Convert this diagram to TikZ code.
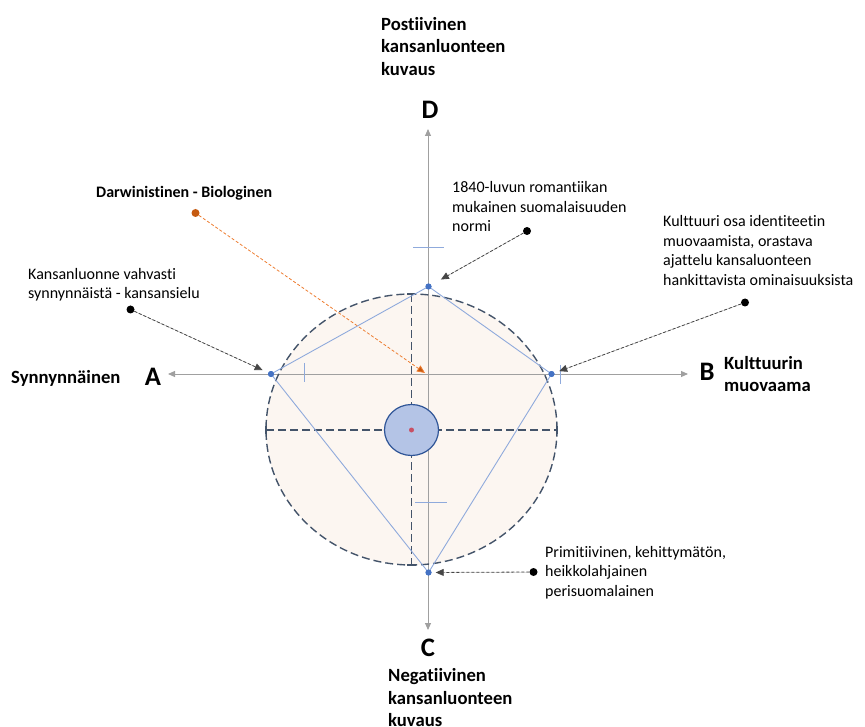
\documentclass[tikz,border=0pt]{standalone}
\usepackage{fontspec}
\setmainfont{Carlito}[Ligatures={NoCommon}]
\usetikzlibrary{arrows.meta,shapes.geometric}
\definecolor{axisgray}{RGB}{160,160,160}
\definecolor{slate}{RGB}{68,84,106}
\definecolor{peach}{RGB}{252,246,241}
\definecolor{lblue}{RGB}{143,170,220}
\definecolor{dblue}{RGB}{68,114,196}
\definecolor{cfill}{RGB}{180,196,230}
\definecolor{cline}{RGB}{47,85,151}
\definecolor{reddot}{RGB}{200,80,100}
\definecolor{orangedk}{RGB}{197,90,17}
\definecolor{orangelt}{RGB}{237,125,49}
\definecolor{callgray}{RGB}{70,70,70}
\tikzset{
  axis/.style={draw=axisgray, line width=0.9pt, {Triangle[length=7pt,width=6pt]}-{Triangle[length=7pt,width=6pt]}},
  bigdash/.style={draw=slate, line width=1.4pt, dash pattern=on 8pt off 4pt},
  tickline/.style={draw=lblue, line width=0.9pt},
  bdot/.style={circle, fill=dblue, inner sep=0pt, minimum size=6pt},
  kdot/.style={circle, fill=black, inner sep=0pt, minimum size=8pt},
  odot/.style={circle, fill=orangedk, inner sep=0pt, minimum size=8pt},
  callout/.style={draw=callgray, line width=0.8pt, dash pattern=on 3pt off 2pt, -{Triangle[length=8pt,width=7pt]}, fill=black},
  ocallout/.style={draw=orangelt, line width=0.8pt, dash pattern=on 3pt off 2pt, -{Triangle[length=8pt,width=7pt,fill=orangedk]}},
  smalltxt/.style={anchor=west, align=left, inner sep=0pt, font=\fontsize{16}{19.5}\selectfont},
  boldtxt/.style={anchor=west, align=left, inner sep=0pt, font=\bfseries\fontsize{18.67}{22.5}\selectfont},
  medbold/.style={anchor=west, align=left, inner sep=0pt, font=\bfseries\fontsize{16}{19.5}\selectfont},
  letter/.style={inner sep=0pt, font=\bfseries\fontsize{26.7}{30}\selectfont}
}
\begin{document}
\begin{tikzpicture}[x=1pt,y=-1pt]
\useasboundingbox (0,0) rectangle (865,727);
% ellipse fill
\fill[peach] (411.5,429.5) ellipse [x radius=145.5pt, y radius=135.5pt];
% axes
\coordinate (O) at (428,374);
\coordinate (axL) at (168,374);
\coordinate (axR) at (688,374);
\coordinate (axT) at (428,129);
\coordinate (axB) at (428,630);
\draw[axis] (axL) -- (axR);
\draw[axis] (axT) -- (axB);
% dashed ellipse
\draw[bigdash] (411.5,429.5) ellipse [x radius=145.5pt, y radius=135.5pt];
% dashed cross with caps
\coordinate (hl) at (266,430);
\coordinate (hr) at (557,430);
\coordinate (vt) at (411.5,294);
\coordinate (vb) at (411.5,565);
\draw[bigdash] (hl) -- (hr);
\draw[bigdash] (vt) -- (vb);
\draw[draw=slate, line width=1.4pt] (266,426) -- (266,434) (557,426) -- (557,434) (407,294) -- (416,294) (407,565) -- (416,565);
% central small ellipse
\node[draw=cline, fill=cfill, line width=1.2pt, ellipse, minimum width=54pt, minimum height=51pt, inner sep=0pt] (mid) at (411.5,430) {};
\node[circle, fill=reddot, inner sep=0pt, minimum size=5pt] (mred) at (411.5,430) {};
% ticks
\draw[tickline] (413,247) -- (444,247);
\draw[tickline] (415,502) -- (447,502);
\draw[tickline] (304,363) -- (304,382);
\draw[tickline] (560,365) -- (560,384);
% blue polygon
\node[bdot] (pT) at (428.5,286.5) {};
\node[bdot] (pL) at (271,374) {};
\node[bdot] (pR) at (551.5,374) {};
\node[bdot] (pB) at (428.5,572.5) {};
\draw[draw=lblue, line width=0.9pt] (pT.center) -- (pR.center) -- (pB.center) -- (pL.center) -- cycle;
\node[bdot] at (pT) {};
\node[bdot] at (pL) {};
\node[bdot] at (pR) {};
\node[bdot] at (pB) {};
% callouts
\node[kdot] (cL) at (130.5,309.5) {};
\node[kdot] (cT) at (527,231) {};
\node[kdot] (cR) at (745,302.5) {};
\node[kdot] (cB) at (533.5,572) {};
\node[odot] (cO) at (195.5,213) {};
\coordinate (oT) at (425,373);
\draw[callout, shorten >=6pt] (cL) -- (pL);
\draw[callout, shorten >=11pt] (cT) -- (pT);
\draw[callout, shorten >=5pt] (cR) -- (pR);
\draw[callout, shorten >=4pt] (cB) -- (pB);
\draw[ocallout] (cO) -- (oT);
% texts
\node[boldtxt] (tD) at (381,46.5) {Postiivinen\\kansanluonteen\\kuvaus};
\node[letter] (lD) at (430,110) {D};
\node[medbold] (tDar) at (96,193) {Darwinistinen - Biologinen};
\node[smalltxt] (tKan) at (28,284.5) {Kansanluonne vahvasti\\synnynnäistä - kansansielu};
\node[boldtxt] (tA) at (11,378) {Synnynnäinen};
\node[letter] (lA) at (153,377) {A};
\node[smalltxt] (t1840) at (452,207) {1840-luvun romantiikan\\mukainen suomalaisuuden\\normi};
\node[smalltxt] (tKult) at (663,250.5) {Kulttuuri osa identiteetin\\muovaamista, orastava\\ajattelu kansaluonteen\\hankittavista ominaisuuksista};
\node[letter] (lB) at (707,372) {B};
\node[boldtxt] (tB) at (724,374) {Kulttuurin\\muovaama};
\node[smalltxt] (tPrim) at (545,572.5) {Primitiivinen, kehittymätön,\\heikkolahjainen\\perisuomalainen};
\node[letter] (lC) at (428,648) {C};
\node[boldtxt] (tC) at (388,698) {Negatiivinen\\kansanluonteen\\kuvaus};
\end{tikzpicture}
\end{document}
